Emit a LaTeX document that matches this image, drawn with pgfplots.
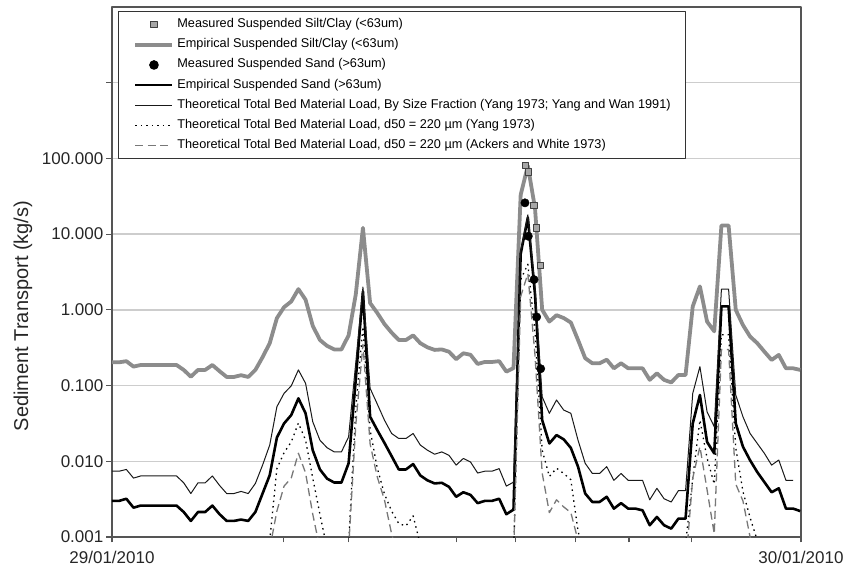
\documentclass[border=0pt]{standalone}
\usepackage{pgfplots}
\pgfplotsset{compat=1.18}
\usepackage{pgfplotstable}
\usepackage{fontspec}
\setmainfont{Liberation Sans}

\definecolor{siltgrey}{RGB}{140,140,140}
\definecolor{sqfill}{RGB}{166,166,166}
\definecolor{awgrey}{RGB}{120,120,120}
\definecolor{gridgrey}{RGB}{205,205,205}
\definecolor{framegrey}{RGB}{85,85,85}

\pgfplotsset{
  lineleg/.style={legend image code/.code={\draw[##1] (0bp,0bp) -- (37bp,0bp);}},
  markleg/.style={legend image code/.code={\draw[##1] plot coordinates {(18.5bp,0bp)};}},
}

% 15-minute series, i = quarter-hour index from 29/01/2010 00:00
\pgfplotstableread{
i silt sand theo yang ackers
0 0.203 0.0030 0.0074 nan nan
1 0.203 0.0030 0.0074 nan nan
2 0.210 0.0032 0.0078 nan nan
3 0.178 0.00244 0.0060 nan nan
4 0.187 0.0026 0.0064 nan nan
5 0.187 0.0026 0.0064 nan nan
6 0.187 0.0026 0.0064 nan nan
7 0.187 0.0026 0.0064 nan nan
8 0.187 0.0026 0.0064 nan nan
9 0.187 0.0026 0.0064 nan nan
10 0.161 0.00214 0.0052 nan nan
11 0.131 0.00163 0.00375 nan nan
12 0.161 0.00214 0.0052 nan nan
13 0.161 0.00214 0.0052 nan nan
14 0.187 0.0026 0.0064 nan nan
15 0.155 0.0020 0.0048 nan nan
16 0.130 0.00163 0.00375 nan nan
17 0.130 0.00163 0.00375 nan nan
18 0.137 0.0017 0.0040 nan nan
19 0.130 0.00163 0.00375 nan nan
20 0.161 0.00214 0.0051 nan nan
21 0.237 0.00375 0.0089 nan nan
22 0.363 0.00655 0.0164 0.0009 0.0007
23 0.778 0.0206 0.0526 0.008 0.0022
24 1.086 0.0316 0.079 0.013 0.0047
25 1.29 0.0408 0.099 0.018 0.006
26 1.88 0.0678 0.161 0.032 0.0128
27 1.36 0.043 0.107 0.019 0.007
28 0.615 0.014 0.0333 0.006 0.002
29 0.40 0.0078 0.019 0.002 0.0007
30 0.334 0.0059 0.0151 0.0007 nan
31 0.30 0.00524 0.0133 nan nan
32 0.30 0.00524 0.0133 nan nan
33 0.46 0.0094 0.021 0.0008 0.0007
34 1.6 0.12 0.2 0.05 0.03
35 12.1 1.75 2.0 0.6 0.35
36 1.23 0.0388 0.092 0.026 0.017
37 0.91 0.0258 0.057 0.0081 0.0062
38 0.65 0.0175 0.035 0.0037 0.0031
39 0.50 0.0117 0.0233 0.0022 0.0011
40 0.40 0.0078 0.020 0.0015 0.0005
41 0.40 0.0078 0.020 0.0014 nan
42 0.46 0.0092 0.0233 0.0019 nan
43 0.363 0.0065 0.0164 0.0008 nan
44 0.32 0.0056 0.014 nan nan
45 0.296 0.0051 0.0124 nan nan
46 0.30 0.0052 0.0133 nan nan
47 0.28 0.0046 0.012 nan nan
48 0.223 0.0034 0.0089 nan nan
49 0.267 0.0039 0.0109 nan nan
50 0.255 0.0036 0.0098 nan nan
51 0.193 0.0028 0.0070 nan nan
52 0.205 0.0030 0.0074 nan nan
53 0.205 0.0030 0.0074 nan nan
54 0.21 0.0032 0.0080 nan nan
55 0.153 0.0020 0.0047 nan nan
56 0.17 0.0023 0.0053 0.0005 0.0005
57 33 5.5 6 2.5 1.5
58 80 16.5 18 4 3
59 22 1.6 2 0.5 0.25
60 1.0 0.035 0.071 0.014 0.007
61 0.70 0.0172 0.043 0.0063 0.0021
62 0.85 0.0222 0.0645 0.0081 0.0031
63 0.78 0.0195 0.0475 0.0069 0.0025
64 0.68 0.015 0.043 0.0057 0.0021
65 0.40 0.0085 0.019 0.0012 0.0009
66 0.23 0.00375 0.0094 0.0005 nan
67 0.197 0.0029 0.0069 nan nan
68 0.197 0.0029 0.0069 nan nan
69 0.22 0.0034 0.0085 nan nan
70 0.169 0.00237 0.0056 nan nan
71 0.197 0.0028 0.0069 nan nan
72 0.169 0.00237 0.0056 nan nan
73 0.169 0.00237 0.0056 nan nan
74 0.169 0.00225 0.0056 nan nan
75 0.119 0.00143 0.0031 nan nan
76 0.145 0.00184 0.0044 nan nan
77 0.119 0.00143 0.0032 nan nan
78 0.110 0.00129 0.0029 nan nan
79 0.138 0.00175 0.0041 nan nan
80 0.138 0.00175 0.0041 0.0008 0.0004
81 1.11 0.0316 0.079 0.006 0.006
82 2.04 0.075 0.178 0.035 0.0156
83 0.70 0.018 0.045 0.011 0.0042
84 0.52 0.0127 0.0286 0.005 0.0011
85 13 1.11 1.88 0.47 0.30
86 13 1.11 1.88 0.47 0.30
87 1.0 0.0316 0.075 0.015 0.005
88 0.63 0.0156 0.0388 0.004 0.003
89 0.444 0.0103 0.0233 0.0018 0.001
90 0.363 0.0072 0.0172 0.0009 0.0005
91 0.28 0.0053 0.0127 nan nan
92 0.218 0.0039 0.0089 nan nan
93 0.254 0.0044 0.0104 nan nan
94 0.169 0.00237 0.0056 nan nan
95 0.169 0.00237 0.0056 nan nan
96 0.161 0.0022 nan nan nan
}\sedtable

% measured samples during the main event
\pgfplotstableread{
t val
57.70 81.5
58.06 66.7
58.86 24.1
59.23 12.1
59.79 3.85
}\siltmeas

\pgfplotstableread{
t val
57.60 25.9
58.06 9.38
58.86 2.51
59.23 0.806
59.79 0.167
}\sandmeas

\begin{document}
\begin{tikzpicture}
\path[use as bounding box] (-112bp,-32bp) rectangle (736bp,537bp);
\begin{axis}[
  at={(0,0)}, anchor=south west,
  scale only axis, width=689bp, height=530bp,
  xmin=0, xmax=96.1,
  ymode=log, ymin=0.001, ymax=10000,
  unbounded coords=jump,
  axis line style={draw=framegrey, line width=1.5bp},
  tick style={draw=framegrey, line width=1.2bp},
  major tick length=5.5bp,
  tick align=outside,
  xtick pos=bottom, ytick pos=left,
  xtick={0,23.9,33,48,56.3,64.7,72.1,80.8,96.1},
  xticklabels={29/01/2010,,,,,,,,30/01/2010},
  ytick={0.001,0.01,0.1,1,10,100,1000},
  yticklabels={0.001,0.010,0.100,1.000,10.000,100.000,{}},
  minor ytick={}, yminorticks=false,
  ymajorgrids, major grid style={draw=gridgrey, line width=1.3bp},
  ticklabel style={font=\fontsize{17bp}{20bp}\selectfont, text=black!85},
  yticklabel style={inner sep=0pt, xshift=-3bp},
  xticklabel style={inner sep=0pt, yshift=-8bp},
  line join=round,
  legend cell align=left,
  legend style={
    at={(6/689,1-4/530)}, anchor=north west,
    draw=black!80, line width=1.2bp, fill=white,
    font=\fontsize{12.7bp}{15bp}\selectfont,
    inner xsep=15bp, inner ysep=6.5bp,
    row sep=7.2bp, column sep=3bp,
    nodes={inner sep=0pt, text height=9.5bp, text depth=3.5bp},
  },
]
\addlegendimage{only marks, mark=square*, mark size=3.2bp, mark options={fill=sqfill, draw=black!75, line width=0.8bp}, markleg}
\addlegendentry{Measured Suspended Silt/Clay (<63um)}
\addlegendimage{draw=siltgrey, line width=3.8bp, lineleg}
\addlegendentry{Empirical Suspended Silt/Clay (<63um)}
\addlegendimage{only marks, mark=*, mark size=4.2bp, mark options={fill=black, draw=black}, markleg}
\addlegendentry{Measured Suspended Sand (>63um)}
\addlegendimage{draw=black, line width=2.6bp, lineleg}
\addlegendentry{Empirical Suspended Sand (>63um)}
\addlegendimage{draw=black!90, line width=1bp, lineleg}
\addlegendentry{Theoretical Total Bed Material Load, By Size Fraction (Yang 1973; Yang and Wan 1991)}
\addlegendimage{draw=black, line width=1.3bp, dash pattern=on 1.5bp off 4bp, lineleg}
\addlegendentry{Theoretical Total Bed Material Load, d50 = 220 µm (Yang 1973)}
\addlegendimage{draw=awgrey, line width=1.3bp, dash pattern=on 8bp off 4.5bp, lineleg}
\addlegendentry{Theoretical Total Bed Material Load, d50 = 220 µm (Ackers and White 1973)}

% series
\addplot[forget plot, draw=siltgrey, line width=3.8bp, mark=none] table[x=i, y=silt] {\sedtable};
\addplot[forget plot, draw=black, line width=2.6bp, mark=none] table[x=i, y=sand] {\sedtable};
\addplot[forget plot, draw=black!90, line width=1bp, mark=none] table[x=i, y=theo] {\sedtable};
\addplot[forget plot, draw=black, line width=1.3bp, dash pattern=on 1.5bp off 4bp, mark=none] table[x=i, y=yang] {\sedtable};
\addplot[forget plot, draw=awgrey, line width=1.3bp, dash pattern=on 8bp off 4.5bp, mark=none] table[x=i, y=ackers] {\sedtable};
\addplot[forget plot, only marks, mark=square*, mark size=3.2bp, mark options={fill=sqfill, draw=black!75, line width=0.8bp}] table[x=t, y=val] {\siltmeas};
\addplot[forget plot, only marks, mark=*, mark size=4.2bp, mark options={fill=black, draw=black}] table[x=t, y=val] {\sandmeas};
\end{axis}
\node[rotate=90, font=\fontsize{20bp}{24bp}\selectfont, text=black!85] at (-89bp,221bp) {Sediment Transport (kg/s)};
\end{tikzpicture}
\end{document}
